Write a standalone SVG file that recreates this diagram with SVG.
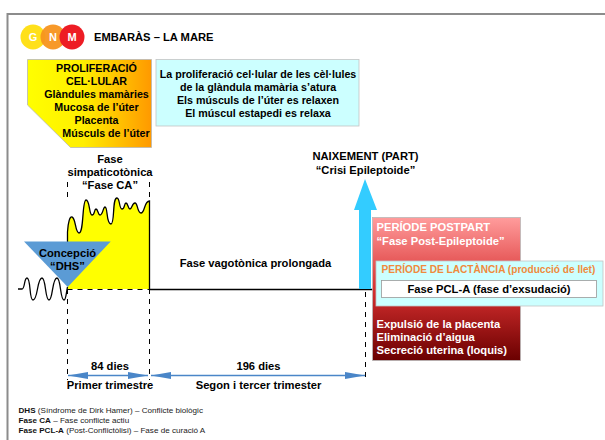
<svg xmlns="http://www.w3.org/2000/svg" width="605" height="440" viewBox="0 0 605 440">
<style>
text{font-family:"Liberation Sans",Arial,sans-serif;font-weight:bold;fill:#000;font-size:11.2px}
.b{font-size:10.7px}
.m{text-anchor:middle}
.w{fill:#fff}
.n{font-weight:normal;font-size:8.1px;fill:#222}
.s{font-weight:bold;fill:#111}
.d{fill:none;stroke:#000;stroke-width:1;stroke-dasharray:5 5}
.l{fill:none;stroke:#000;stroke-width:1.3}
.ar{fill:none;stroke:#4a86c8;stroke-width:1.5}
</style>
<defs>
<linearGradient id="yo"><stop offset="0" stop-color="#ffff00"/><stop offset=".45" stop-color="#ffee00"/><stop offset="1" stop-color="#ff9900"/></linearGradient>
<linearGradient id="pr" x2="0" y2="1"><stop offset="0" stop-color="#ff9c9c"/><stop offset=".5" stop-color="#d83030"/><stop offset="1" stop-color="#6a0000"/></linearGradient>
<marker id="a" viewBox="0 0 20 7" refX="20" refY="3.500" markerWidth="20" markerHeight="7" markerUnits="userSpaceOnUse" orient="auto-start-reverse"><path d="M0 0L20 3.500L0 7z" fill="#4a86c8"/></marker>
</defs>
<rect width="605" height="440" fill="#fff"/>
<path d="M605 14H7.500V440" fill="none" stroke="#8c8c8c" stroke-width="2"/>
<g id="logo">
<circle cx="33" cy="37" r="12.500" fill="#ffe01a"/>
<circle cx="53" cy="37" r="12.500" fill="#f7941d" fill-opacity=".95"/>
<circle cx="72" cy="37" r="12.500" fill="#ed1c24"/>
<text class="m w" x="33" y="41" style="font-size:11px">G</text>
<text class="m w" x="53" y="41" style="font-size:11px">N</text>
<text class="m w" x="72" y="41" style="font-size:11px">M</text>
</g>
<text x="94" y="41">EMBARÀS – LA MARE</text>
<g id="proliferacio">
<path d="M27.500 59.500H151.500V147.500H70.500L27.500 105z" fill="url(#yo)" stroke="#b8b8b8" stroke-width=".8"/>
<text class="m b" x="96.500" y="72">PROLIFERACIÓ</text>
<text class="m b" x="96.500" y="85">CEL·LULAR</text>
<text class="m b" x="96.500" y="98">Glàndules mamàries</text>
<text class="m b" x="96.500" y="111">Mucosa de l’úter</text>
<text class="m b" x="96.500" y="124">Placenta</text>
<text class="m b" x="106" y="137">Músculs de l’úter</text>
</g>
<g id="efectes">
<rect x="156" y="59.500" width="203" height="66.500" fill="#ccffff" stroke="#c4c4c4" stroke-width=".8"/>
<text class="m b" x="258" y="78">La proliferació cel·lular de les cèl·lules</text>
<text class="m b" x="258" y="91">de la glàndula mamària s’atura</text>
<text class="m b" x="258" y="104">Els músculs de l’úter es relaxen</text>
<text class="m b" x="258" y="117">El múscul estapedi es relaxa</text>
</g>
<g id="fase-ca">
<path id="ca" d="M67.500 289V232C68 222 70 216 72 217C76 218 75 233 79 233C84 233 82 200 86 200C90 200 89 215 92 215C95 215 94 209 96 209C98 209 98 215 100 215C103 215 103 207 105 207C108 207 106 224 111 224C115 224 112 198 117 198C120 198 119 209 122 209C125 209 124 203 126 203C128 203 128 209 130 209C132 209 132 203 135 203C138 203 137 213 141 213C145 213 144 201 149.500 201V289z" fill="#ffff00"/>
<path class="l" d="M67.500 242V232C68 222 70 216 72 217C76 218 75 233 79 233C84 233 82 200 86 200C90 200 89 215 92 215C95 215 94 209 96 209C98 209 98 215 100 215C103 215 103 207 105 207C108 207 106 224 111 224C115 224 112 198 117 198C120 198 119 209 122 209C125 209 124 203 126 203C128 203 128 209 130 209C132 209 132 203 135 203C138 203 137 213 141 213C145 213 144 201 149.500 201V289"/>
<text class="m" x="110" y="163">Fase</text>
<text class="m" x="110" y="176">simpaticotònica</text>
<text class="m" x="110" y="189">“Fase CA”</text>
</g>
<g id="connectors">
<path class="d" d="M67.500 182V200M149.500 182V200M67.500 289V380M149.500 289V380M365.500 292V380M67.500 289.500H149"/>
<path class="l" d="M149.500 289.500H374"/>
<path class="l" d="M18 289H22C25 289 24 278 27 278C31 278 29 300 33 300C38 300 37 278 42 278C46 278 45 300 49 300C53 300 52 278 57 278C61 278 60 300 64 300C66 300 66 294 67.500 287"/>
<path class="ar" d="M68 375.500H148" marker-start="url(#a)" marker-end="url(#a)"/>
<path class="ar" d="M151 375.500H365" marker-start="url(#a)" marker-end="url(#a)"/>
</g>
<g id="concepcio">
<path d="M24 241.500H110.700L67.700 287z" fill="#5b9bd5"/>
<text class="m" x="67.500" y="256.500">Concepció</text>
<text class="m" x="67.500" y="269.500">“DHS”</text>
</g>
<text class="m" x="255.500" y="267">Fase vagotònica prolongada</text>
<g id="naixement">
<path d="M365 179L377 210H371V289H359V210H354z" fill="#33ccff"/>
<text class="m" x="365.500" y="160">NAIXEMENT (PART)</text>
<text class="m" x="365.500" y="174">“Crisi Epileptoide”</text>
</g>
<g id="postpart">
<rect x="372.500" y="217.500" width="148" height="143" fill="url(#pr)" stroke="#b8b8b8" stroke-width=".8"/>
<text class="w" x="376.500" y="231">PERÍODE POSTPART</text>
<text class="w" x="376.500" y="245">“Fase Post-Epileptoide”</text>
<text class="w" x="376.500" y="328">Expulsió de la placenta</text>
<text class="w" x="376.500" y="341">Eliminació d’aigua</text>
<text class="w" x="376.500" y="354">Secreció uterina (loquis)</text>
</g>
<g id="lactancia">
<rect x="376" y="261" width="227" height="45" fill="#ccffff" stroke="#c4c4c4" stroke-width=".8"/>
<text x="381.500" y="272.500" style="fill:#f08a3c;font-size:10.1px">PERÍODE DE LACTÀNCIA (producció de llet)</text>
<rect x="381.500" y="280.500" width="215" height="17" fill="#fff" stroke="#999" stroke-width=".8"/>
<text class="m" x="489" y="293">Fase PCL-A (fase d’exsudació)</text>
</g>
<text class="m" x="110" y="370">84 dies</text>
<text class="m" x="258.500" y="370">196 dies</text>
<text class="m" x="110" y="389">Primer trimestre</text>
<text class="m" x="258.500" y="389">Segon i tercer trimester</text>
<text class="n" x="18.500" y="413"><tspan class="s">DHS</tspan> (Síndrome de Dirk Hamer) – Conflicte biològic</text>
<text class="n" x="18.500" y="423"><tspan class="s">Fase CA</tspan> – Fase conflicte actiu</text>
<text class="n" x="18.500" y="433"><tspan class="s">Fase PCL-A</tspan> (Post-Conflictòlisi) – Fase de curació A</text>
</svg>
